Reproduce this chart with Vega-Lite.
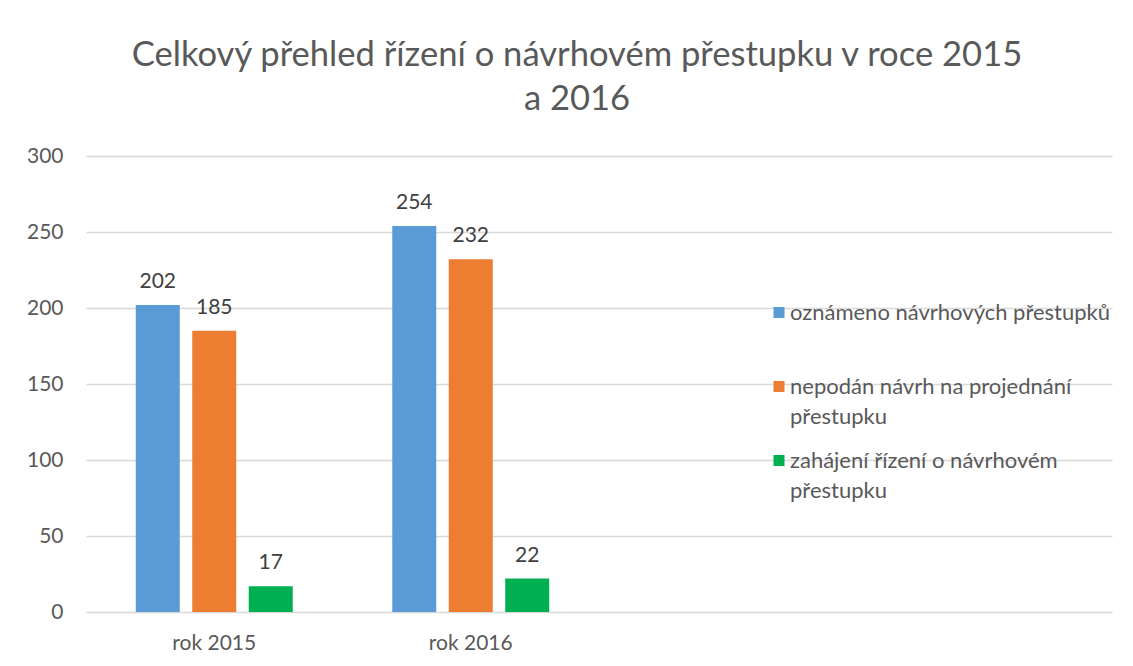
{
  "$schema": "https://vega.github.io/schema/vega-lite/v6.json",
  "width": 1026,
  "height": 456,
  "autosize": {"type": "none"},
  "padding": {"left": 86, "top": 156, "right": 21, "bottom": 54},
  "background": "white",
  "title": {
    "text": ["Celkový přehled řízení o návrhovém přestupku v roce 2015", "a 2016"],
    "anchor": "middle",
    "dx": -22,
    "offset": 27,
    "font": "Lato",
    "fontSize": 34.6,
    "fontWeight": 400,
    "color": "#595959",
    "lineHeight": 44
  },
  "data": {
    "values": [
      {"rok": "rok 2015", "serie": "oznámeno návrhových přestupků", "hodnota": 202},
      {"rok": "rok 2015", "serie": "nepodán návrh na projednání přestupku", "hodnota": 185},
      {"rok": "rok 2015", "serie": "zahájení řízení o návrhovém přestupku", "hodnota": 17},
      {"rok": "rok 2016", "serie": "oznámeno návrhových přestupků", "hodnota": 254},
      {"rok": "rok 2016", "serie": "nepodán návrh na projednání přestupku", "hodnota": 232},
      {"rok": "rok 2016", "serie": "zahájení řízení o návrhovém přestupku", "hodnota": 22}
    ]
  },
  "encoding": {
    "x": {
      "field": "rok",
      "type": "nominal",
      "sort": null,
      "scale": {"domain": ["rok 2015", "rok 2016", "_a", "_b"], "paddingInner": 0.388, "paddingOuter": 0.194},
      "axis": {
        "title": null,
        "labelExpr": "indexof(datum.label, '_') === 0 ? '' : datum.label",
        "labelAngle": 0,
        "ticks": false,
        "domain": false,
        "labelPadding": 20,
        "labelFont": "Lato",
        "labelFontSize": 21,
        "labelColor": "#595959"
      }
    },
    "xOffset": {
      "field": "serie",
      "type": "nominal",
      "sort": null,
      "scale": {"paddingInner": 0.221, "paddingOuter": 0}
    },
    "y": {
      "field": "hodnota",
      "type": "quantitative",
      "scale": {"domain": [0, 300], "nice": false},
      "axis": {
        "title": null,
        "values": [0, 50, 100, 150, 200, 250, 300],
        "ticks": false,
        "tickSize": 0,
        "domain": false,
        "labelPadding": 23,
        "labelFont": "Lato",
        "labelFontSize": 21,
        "labelColor": "#595959",
        "gridColor": "#D9D9D9",
        "gridWidth": 1.5
      }
    }
  },
  "layer": [
    {
      "mark": {"type": "bar"},
      "encoding": {
        "color": {
          "field": "serie",
          "type": "nominal",
          "sort": null,
          "scale": {
            "domain": ["oznámeno návrhových přestupků", "nepodán návrh na projednání přestupku", "zahájení řízení o návrhovém přestupku"],
            "range": ["#5B9BD5", "#ED7D31", "#00B050"]
          },
          "legend": {
            "title": null,
            "orient": "none",
            "legendX": 682,
            "legendY": 136,
            "padding": 0,
            "gridAlign": "all",
            "rowPadding": 12,
            "symbolType": "M-1,0.73H1V2.73H-1Z",
            "symbolSize": 121,
            "symbolStrokeWidth": 0,
            "symbolOffset": 0,
            "labelOffset": 0,
            "labelBaseline": "top",
            "labelFont": "Lato",
            "labelFontSize": 22,
            "labelColor": "#595959",
            "labelLimit": 400,
            "labelExpr": "datum.label == 'nepodán návrh na projednání přestupku' ? ['nepodán návrh na projednání', 'přestupku'] : datum.label == 'zahájení řízení o návrhovém přestupku' ? ['zahájení řízení o návrhovém', 'přestupku'] : datum.label",
            "encode": {"labels": {"update": {"lineHeight": {"value": 30}}}}
          }
        }
      }
    },
    {
      "mark": {"type": "text", "baseline": "alphabetic", "dy": -17, "font": "Lato", "fontSize": 21, "color": "#404040"},
      "encoding": {
        "text": {"field": "hodnota", "type": "quantitative"}
      }
    }
  ],
  "config": {
    "view": {"stroke": null}
  }
}
